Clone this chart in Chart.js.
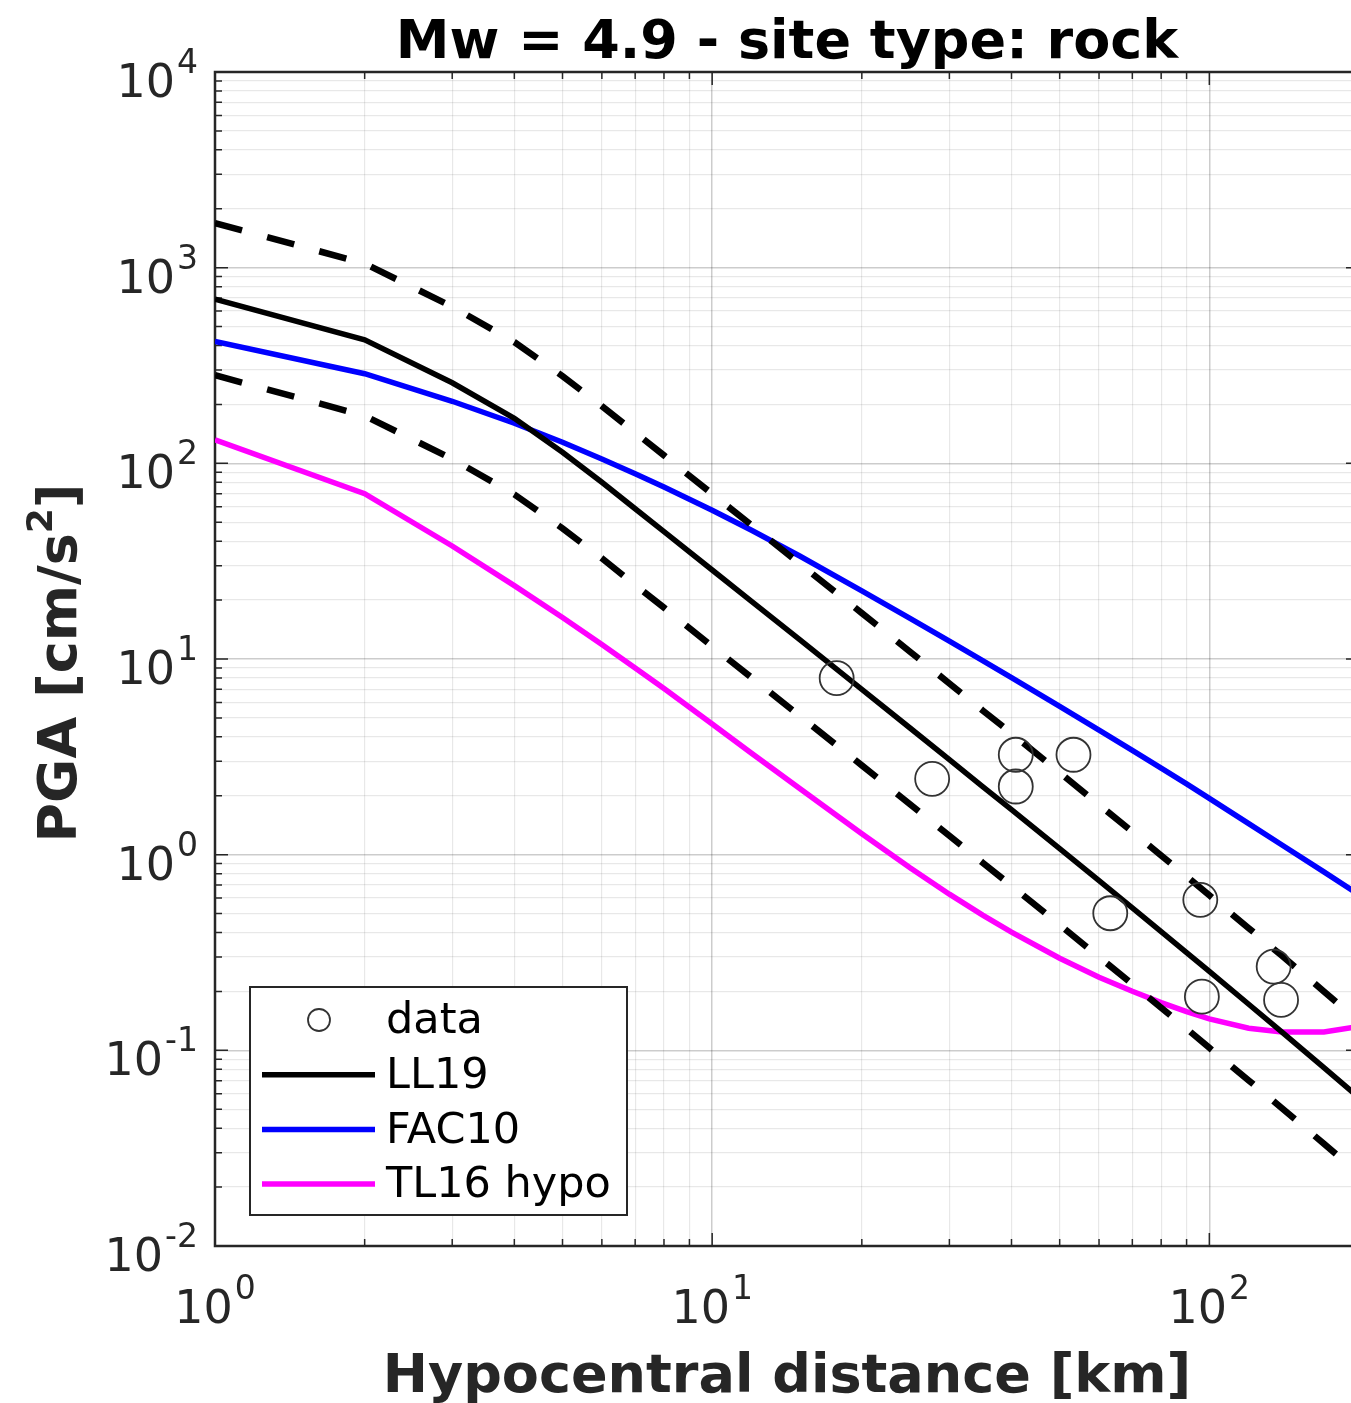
<!DOCTYPE html>
<html>
<head>
<meta charset="utf-8">
<title>PGA vs hypocentral distance</title>
<script src="https://cdn.jsdelivr.net/npm/chart.js@4/dist/chart.umd.min.js"></script>
<style>
  html, body { margin: 0; padding: 0; background: #fff; overflow: hidden; }
  #wrap { width: 1380px; height: 1403px; }
</style>
</head>
<body>
<div id="wrap"><canvas id="pgaChart" width="1380" height="1403"></canvas></div>
<script>
// ---- data ----
const distances = [1, 2, 3, 4, 5, 6, 7, 8, 10, 12, 15, 20, 25, 30, 35, 40, 50, 60, 70, 80, 90, 100, 120, 140, 170, 200];

const ll19      = [690, 428, 258, 170, 114, 80, 58.6, 44.8, 28.5, 19.7, 12.55, 7.0, 4.44, 3.06, 2.23, 1.70, 1.074, 0.736, 0.534, 0.404, 0.316, 0.253, 0.172, 0.124, 0.0816, 0.0573];
const ll19Plus  = [1690, 1050, 632, 417, 279, 196, 143.6, 109.8, 69.8, 48.3, 30.7, 17.15, 10.9, 7.5, 5.46, 4.17, 2.63, 1.80, 1.31, 0.99, 0.774, 0.62, 0.421, 0.304, 0.200, 0.140];
const ll19Minus = [282, 175, 105.3, 69.4, 46.5, 32.7, 23.9, 18.3, 11.6, 8.04, 5.12, 2.86, 1.81, 1.25, 0.91, 0.694, 0.438, 0.300, 0.218, 0.165, 0.129, 0.103, 0.0702, 0.0506, 0.0333, 0.0234];
const fac10     = [420, 287, 207.6, 160.3, 128.2, 105.3, 88.4, 75.6, 57.6, 45.5, 33.6, 22.3, 16.13, 12.33, 9.82, 8.03, 5.73, 4.335, 3.41, 2.77, 2.30, 1.94, 1.44, 1.121, 0.817, 0.624];
const tl16      = [132, 70, 37.8, 23.7, 16.3, 11.85, 9.0, 7.07, 4.65, 3.30, 2.18, 1.28, 0.857, 0.628, 0.491, 0.402, 0.2955, 0.2364, 0.2005, 0.1754, 0.1577, 0.1449, 0.1298, 0.1240, 0.1240, 0.1323];

const obsDist = [17.8, 27.7, 40.8, 40.8, 53.3, 63.2, 95.9, 96.6, 134.7, 139.4];
const obsPga  = [7.98, 2.44, 3.24, 2.23, 3.24, 0.502, 0.588, 0.188, 0.268, 0.181];

// tick labels: powers of ten shown on each axis
const xExponents = [0, 1, 2];
const yExponents = [-2, -1, 0, 1, 2, 3, 4];

const TITLE = 'Mw = 4.9 - site type: rock';
const X_LABEL = 'Hypocentral distance [km]';

const FONT = '"DejaVu Sans", "Liberation Sans", sans-serif';
const AXIS_COLOR = '#262626';

// pair two arrays into {x, y} points
const toPoints = (xs, ys) => xs.map((x, i) => ({ x: x, y: ys[i] }));

const isMajor = v => Math.abs(Math.log10(v) - Math.round(Math.log10(v))) < 1e-9;

// 1..9 x 10^n ticks between min and max
function logTicks(min, max) {
  const out = [];
  for (let e = Math.floor(Math.log10(min)); e <= Math.ceil(Math.log10(max)); e++) {
    for (let m = 1; m <= 9; m++) {
      const v = parseFloat((m * Math.pow(10, e)).toPrecision(12));
      if (v >= min * 0.999999 && v <= max * 1.000001) out.push({ value: v });
    }
  }
  return out;
}

// draws "10" with a raised exponent
function drawPower(ctx, exp, x, baseY, align) {
  const base = '10';
  const sup = String(exp);
  ctx.font = '46px ' + FONT;
  const w1 = ctx.measureText(base).width + 2;
  ctx.font = '33px ' + FONT;
  const w2 = ctx.measureText(sup).width;
  const left = align === 'right' ? x - w1 - w2 : x - (w1 + w2) / 2;
  ctx.textAlign = 'left';
  ctx.textBaseline = 'alphabetic';
  ctx.font = '46px ' + FONT;
  ctx.fillText(base, left, baseY);
  ctx.font = '33px ' + FONT;
  ctx.fillText(sup, left + w1, baseY - 24);
}

// axes box, inward ticks and labels in MATLAB style
const matlabAxes = {
  id: 'matlabAxes',
  beforeDatasetsDraw(chart) {
    const { ctx, chartArea: a, scales: { x, y } } = chart;
    ctx.save();
    ctx.strokeStyle = AXIS_COLOR;
    ctx.lineWidth = 1.5;
    ctx.beginPath();
    x.ticks.forEach(t => {
      const px = x.getPixelForValue(t.value);
      const len = isMajor(t.value) ? 13 : 7;
      ctx.moveTo(px, a.bottom); ctx.lineTo(px, a.bottom - len);
      ctx.moveTo(px, a.top); ctx.lineTo(px, a.top + len);
    });
    y.ticks.forEach(t => {
      const py = y.getPixelForValue(t.value);
      const len = isMajor(t.value) ? 13 : 7;
      ctx.moveTo(a.left, py); ctx.lineTo(a.left + len, py);
      ctx.moveTo(a.right, py); ctx.lineTo(a.right - len, py);
    });
    ctx.stroke();
    ctx.lineWidth = 2.5;
    ctx.strokeRect(a.left, a.top, a.right - a.left, a.bottom - a.top);
    ctx.restore();
  },
  afterDraw(chart) {
    const { ctx, chartArea: a, scales: { x, y } } = chart;
    ctx.save();
    ctx.fillStyle = AXIS_COLOR;
    xExponents.forEach(e => drawPower(ctx, e, x.getPixelForValue(Math.pow(10, e)), a.bottom + 77, 'center'));
    yExponents.forEach(e => drawPower(ctx, e, a.left - 17, y.getPixelForValue(Math.pow(10, e)) + 25, 'right'));

    const cx = (a.left + a.right) / 2;
    // title
    ctx.fillStyle = '#000';
    ctx.font = 'bold 54px ' + FONT;
    ctx.textAlign = 'center';
    ctx.textBaseline = 'alphabetic';
    ctx.fillText(TITLE, cx, 58);
    // x label
    ctx.fillStyle = AXIS_COLOR;
    ctx.fillText(X_LABEL, cx, 1392);
    // y label with superscript 2
    const parts = [['PGA [cm/s', 54, 0], ['2', 36, -24], [']', 54, 0]];
    let total = 0;
    parts.forEach(p => { ctx.font = 'bold ' + p[1] + 'px ' + FONT; p.push(ctx.measureText(p[0]).width); total += p[3]; });
    ctx.translate(76, (a.top + a.bottom) / 2 + 4);
    ctx.rotate(-Math.PI / 2);
    ctx.textAlign = 'left';
    let px = -total / 2;
    parts.forEach(p => {
      ctx.font = 'bold ' + p[1] + 'px ' + FONT;
      ctx.fillText(p[0], px, p[2]);
      px += p[3];
    });
    ctx.restore();
  }
};

// boxed legend in the lower left corner
const boxLegend = {
  id: 'boxLegend',
  afterDraw(chart) {
    const ctx = chart.ctx;
    const items = chart.data.datasets.filter(d => !d.hideInLegend);
    const box = { left: 250, top: 987, right: 627, bottom: 1215 };
    ctx.save();
    ctx.fillStyle = '#fff';
    ctx.fillRect(box.left, box.top, box.right - box.left, box.bottom - box.top);
    ctx.strokeStyle = AXIS_COLOR;
    ctx.lineWidth = 2;
    ctx.strokeRect(box.left, box.top, box.right - box.left, box.bottom - box.top);
    items.forEach((d, i) => {
      const rowY = 1020 + i * 54.7;
      if (d.showLine === false) {
        ctx.strokeStyle = d.borderColor;
        ctx.lineWidth = 1.8;
        ctx.beginPath();
        ctx.arc(319, rowY, 11, 0, Math.PI * 2);
        ctx.stroke();
      } else {
        ctx.strokeStyle = d.borderColor;
        ctx.lineWidth = d.borderWidth;
        ctx.beginPath();
        ctx.moveTo(262, rowY);
        ctx.lineTo(375, rowY);
        ctx.stroke();
      }
      ctx.fillStyle = '#000';
      ctx.font = '43px ' + FONT;
      ctx.textAlign = 'left';
      ctx.textBaseline = 'middle';
      ctx.fillText(d.label, 386, rowY + 2);
    });
    ctx.restore();
  }
};

const gridOpts = {
  color: ctx => isMajor(ctx.tick.value) ? 'rgba(0,0,0,0.2)' : 'rgba(0,0,0,0.09)',
  lineWidth: ctx => isMajor(ctx.tick.value) ? 1.5 : 1.2,
  drawTicks: false
};

new Chart(document.getElementById('pgaChart'), {
  type: 'scatter',
  data: {
    datasets: [
      {
        label: 'data',
        data: toPoints(obsDist, obsPga),
        showLine: false,
        pointStyle: 'circle',
        pointRadius: 17,
        pointBorderWidth: 1.8,
        borderColor: '#333',
        backgroundColor: 'rgba(0,0,0,0)',
        order: 0
      },
      {
        label: 'LL19',
        data: toPoints(distances, ll19),
        showLine: true,
        borderColor: '#000',
        borderWidth: 5.5,
        pointRadius: 0,
        order: 2
      },
      {
        label: 'FAC10',
        data: toPoints(distances, fac10),
        showLine: true,
        borderColor: '#0000ff',
        borderWidth: 5.5,
        pointRadius: 0,
        order: 3
      },
      {
        label: 'TL16 hypo',
        data: toPoints(distances, tl16),
        showLine: true,
        borderColor: '#ff00ff',
        borderWidth: 5.5,
        pointRadius: 0,
        order: 4
      },
      {
        label: 'LL19 + sigma',
        hideInLegend: true,
        data: toPoints(distances, ll19Plus),
        showLine: true,
        borderColor: '#000',
        borderWidth: 6.5,
        borderDash: [28, 26],
        pointRadius: 0,
        order: 1
      },
      {
        label: 'LL19 - sigma',
        hideInLegend: true,
        data: toPoints(distances, ll19Minus),
        showLine: true,
        borderColor: '#000',
        borderWidth: 6.5,
        borderDash: [28, 26],
        pointRadius: 0,
        order: 1
      }
    ]
  },
  options: {
    responsive: false,
    animation: false,
    layout: { padding: { left: 215, top: 72, right: 21, bottom: 157 } },
    plugins: {
      legend: { display: false },
      tooltip: { enabled: false },
      title: { display: false }
    },
    scales: {
      x: {
        type: 'logarithmic',
        min: 1,
        max: 200,
        afterBuildTicks: scale => { scale.ticks = logTicks(1, 200); },
        ticks: { display: false },
        grid: gridOpts,
        border: { display: false }
      },
      y: {
        type: 'logarithmic',
        min: 0.01,
        max: 10000,
        afterBuildTicks: scale => { scale.ticks = logTicks(0.01, 10000); },
        ticks: { display: false },
        grid: gridOpts,
        border: { display: false }
      }
    }
  },
  plugins: [matlabAxes, boxLegend]
});
</script>
</body>
</html>
